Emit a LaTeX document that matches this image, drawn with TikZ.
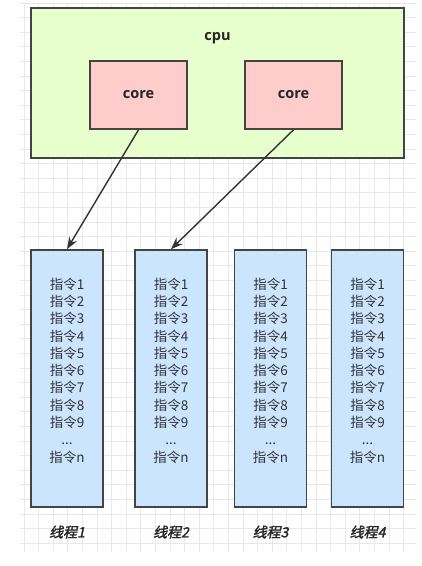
\documentclass[tikz,border=0pt]{standalone}
\usepackage{fontspec}
\usetikzlibrary{arrows.meta}
\newfontfamily\cjk{Noto Sans CJK SC}
\newfontfamily\cjkbi{Noto Sans CJK SC}[FakeSlant=0.22,FakeBold=2]
\newfontfamily\latb{Open Sans}
\definecolor{cpufill}{HTML}{E6FFCC}
\definecolor{corefill}{HTML}{FFCCCC}
\definecolor{thrfill}{HTML}{CCE5FF}
\definecolor{edge}{HTML}{444444}
\definecolor{gridc}{HTML}{E8E8E8}
\tikzset{
  box/.style={draw=edge, line width=1.6pt, inner sep=0pt},
  cpubox/.style={box, fill=cpufill, minimum width=373pt, minimum height=150pt},
  corebox/.style={box, fill=corefill, minimum width=97pt, minimum height=68pt, font=\latb\bfseries\fontsize{14.5}{16}\selectfont, text=black!85},
  thrbox/.style={box, fill=thrfill, minimum width=72pt, minimum height=257pt},
  instr/.style={align=center, font=\cjk\fontsize{13.5}{17.3}\selectfont, text=black!80, inner sep=0pt},
  thrlabel/.style={font=\cjkbi\fontsize{14}{16}\selectfont, text=black!85, inner sep=0pt},
  conn/.style={draw=black!80, line width=1.4pt, -{Stealth[length=12pt,width=9pt]}}
}
\newcommand{\instrlist}{指令1\\指令2\\指令3\\指令4\\指令5\\指令6\\指令7\\指令8\\指令9\\...\\指令n}
\begin{document}
\begin{tikzpicture}[x=1pt,y=-1pt]
\useasboundingbox (0,0) rectangle (422,566);
% background grid
\foreach \k in {0,...,26} {
  \draw[gridc, line width=0.7pt] ({24+14.6*\k},3) -- ({24+14.6*\k},552);
}
\foreach \k in {0,...,37} {
  \draw[gridc, line width=0.7pt] (20,{3+14.6*\k}) -- (416,{3+14.6*\k});
}
% cpu
\node[cpubox] (cpu) at (217.5,83) {};
\node[font=\latb\bfseries\fontsize{14.5}{16}\selectfont, text=black!85, inner sep=0pt] (cputext) at (217.5,38) {cpu};
\node[corebox] (core1) at (138.5,95) {core};
\node[corebox] (core2) at (293.5,95) {core};
% threads
\node[thrbox] (t1) at (67,378.5) {};
\node[thrbox] (t2) at (171,378.5) {};
\node[thrbox] (t3) at (270.5,378.5) {};
\node[thrbox] (t4) at (367.5,378.5) {};
\node[instr] (i1) at (67,370.5) {\instrlist};
\node[instr] (i2) at (171,370.5) {\instrlist};
\node[instr] (i3) at (270.5,370.5) {\instrlist};
\node[instr] (i4) at (367.5,370.5) {\instrlist};
\node[thrlabel] (l1) at (67,532) {线程1};
\node[thrlabel] (l2) at (171,532) {线程2};
\node[thrlabel] (l3) at (270.5,532) {线程3};
\node[thrlabel] (l4) at (367.5,532) {线程4};
% connectors
\draw[conn] (core1.south) -- (t1.north);
\draw[conn] (core2.south) -- (t2.north);
\end{tikzpicture}
\end{document}
